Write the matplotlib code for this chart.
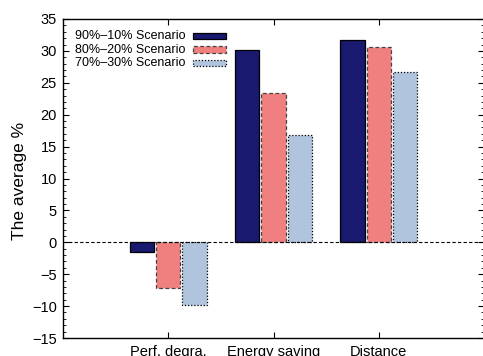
import matplotlib.pyplot as plt
import numpy as np
from matplotlib.patches import Rectangle
from matplotlib.ticker import MultipleLocator

plt.rcParams['font.family'] = ['Liberation Sans', 'DejaVu Sans']

categories = ['Perf. degra.', 'Energy saving', 'Distance']
scenarios = ['90%\u201310% Scenario', '80%\u201320% Scenario', '70%\u201330% Scenario']
s90_10 = [-1.5, 30.1, 31.7]
s80_20 = [-7.2, 23.4, 30.6]
s70_30 = [-9.9, 16.8, 26.7]

colors = ['#191970', '#f08080', '#b0c4de']
edges = ['black', '#444444', 'black']
styles = ['-', (0, (3, 2)), (0, (1, 1.5))]

fig = plt.figure(figsize=(4.83, 3.56), dpi=100)
ax = fig.add_axes([63 / 483, 18 / 356, 421 / 483, 319 / 356])

x = np.arange(len(categories))
width = 0.23
offsets = [-0.25, 0, 0.25]
for vals, off, c, ec, ls in zip([s90_10, s80_20, s70_30], offsets, colors, edges, styles):
    ax.bar(x + off, vals, width, color=c, edgecolor=ec, linestyle=ls, linewidth=0.9)

ax.axhline(0, color='black', linestyle=(0, (3, 2)), linewidth=0.8)

# key in the upper left: text first, sample box after it
for i, (lab, c, ec, ls) in enumerate(zip(scenarios, colors, edges, styles)):
    yc = 0.946 - i * 0.042
    ax.text(0.0285, yc, lab, transform=ax.transAxes, fontsize=9, va='center', ha='left')
    ax.add_patch(Rectangle((0.309, yc - 0.010), 0.078, 0.020, transform=ax.transAxes,
                           facecolor=c, edgecolor=ec, linestyle=ls, linewidth=0.9))

ax.set_xlim(-1, 3)
ax.set_ylim(-15, 35)
ax.set_xticks(x)
ax.set_xticklabels(categories)
ax.yaxis.set_major_locator(MultipleLocator(5))
ax.yaxis.set_minor_locator(MultipleLocator(1))
ax.tick_params(axis='both', which='both', direction='in', top=True, right=True)
ax.tick_params(axis='both', which='major', length=4.5, width=0.8, labelsize=10.5)
ax.tick_params(axis='y', which='major', pad=4.5)
ax.tick_params(axis='x', which='major', pad=5)
ax.tick_params(axis='y', which='minor', length=2.2, width=0.6)
ax.tick_params(axis='x', which='minor', bottom=False, top=False)
for sp in ax.spines.values():
    sp.set_linewidth(1.0)

ylab = ax.set_ylabel('The average %', fontsize=12.5)
ylab.set_va('center')
ax.yaxis.set_label_coords(-0.103, 0.492)

fig.savefig('out.png', dpi=100)
